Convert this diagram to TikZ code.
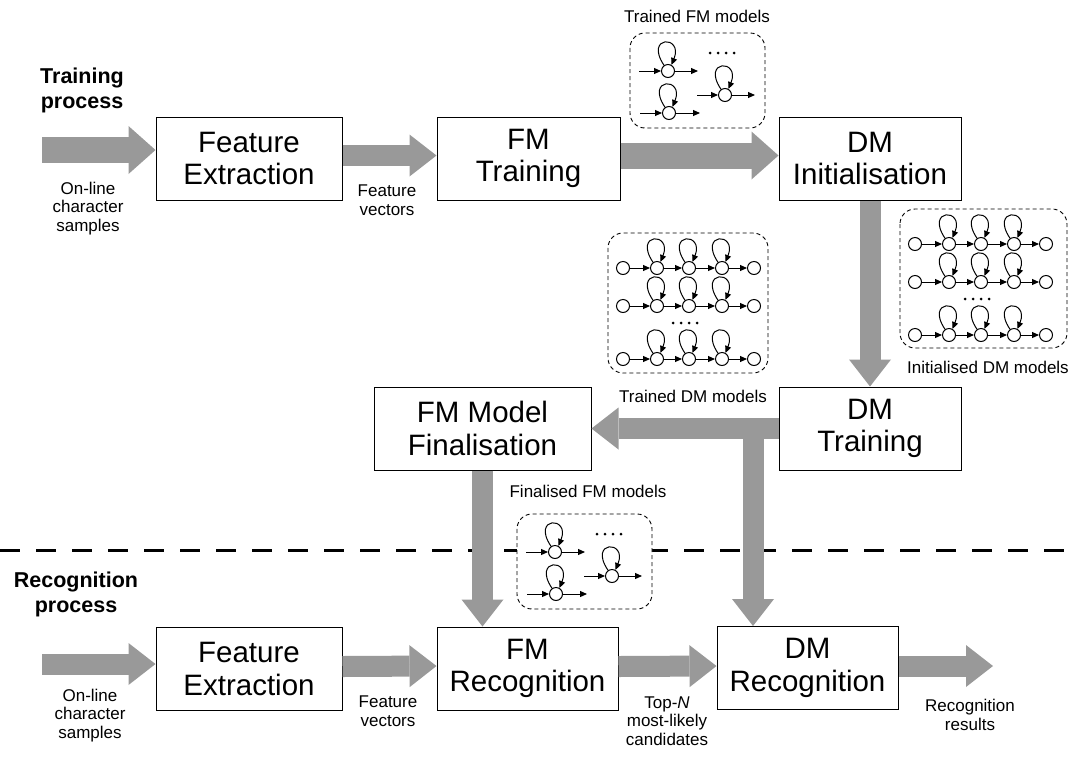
\documentclass[tikz,border=0pt]{standalone}
\usepackage{fontspec}
\setmainfont{Liberation Sans}
\usetikzlibrary{arrows.meta,calc}
\definecolor{arrowgray}{RGB}{153,153,153}
\tikzset{
 proc/.style={draw, line width=1pt, fill=white, inner sep=0pt, align=center,
   font=\fontsize{29.5}{32.5}\selectfont, minimum height=83pt},
 lbl/.style={align=center, font=\fontsize{17}{18.5}\selectfont, inner sep=0pt, anchor=base},
 ttl/.style={align=center, font=\fontsize{21.5}{25}\selectfont\bfseries, inner sep=0pt, anchor=base},
 bigarrow/.style={draw=arrowgray, line width=21pt, -{Triangle[length=27pt,width=42pt,line width=0pt]}},
 bigarrowthick/.style={draw=arrowgray, line width=26pt, -{Triangle[length=27pt,width=48pt,line width=0pt]}},
 modelbox/.style={draw, dash pattern=on 4pt off 3pt, rounded corners=15pt, fill=white, line width=0.9pt},
 st/.style={circle, draw, line width=1pt, inner sep=0pt, minimum size=13pt, fill=white},
 tr/.style={line width=1pt, -{Triangle[length=7pt,width=6pt]}},
 selfloop/.style={line width=1pt, -{Triangle[length=7pt,width=6pt]}},
}
\newcommand{\loopat}[1]{\draw[selfloop] (#1.125) .. controls +(-20,-30) and +(12,-30) .. (#1.60);}
\newcommand{\fmgroup}[3]{%
\begin{scope}[shift={(#2,#3)}]
\draw[modelbox] (0,0) rectangle (135,95);
\node[st] (#1s1) at (38,38) {};
\node[st] (#1s2) at (39,80) {};
\node[st] (#1s3) at (95,62) {};
\coordinate (#1i1) at (9,38); \coordinate (#1o1) at (68,38);
\coordinate (#1i2) at (10,80); \coordinate (#1o2) at (70,80);
\coordinate (#1i3) at (67,62); \coordinate (#1o3) at (125,62);
\foreach \k in {1,2,3}{
 \draw[tr] (#1i\k) -- (#1s\k);
 \draw[tr] (#1s\k) -- (#1o\k);
 \loopat{#1s\k}
}
\foreach \dx in {80,88,96,104} \fill (\dx,20) circle (1.5);
\end{scope}}
\newcommand{\dmgroup}[5]{%
\begin{scope}[shift={(#2,#3)}]
\draw[modelbox] (0,0) rectangle (#4,#5);
\foreach \r/\yy in {a/35,b/73,c/126}{
  \foreach \c/\xx in {1/15,2/49,3/81,4/114,5/146}{
    \node[st] (#1\r\c) at (\xx,\yy) {};
  }
  \draw[tr] (#1\r1) -- (#1\r2);
  \draw[tr] (#1\r2) -- (#1\r3);
  \draw[tr] (#1\r3) -- (#1\r4);
  \draw[tr] (#1\r4) -- (#1\r5);
  \foreach \c in {2,3,4}{
    \loopat{#1\r\c}
  }
}
\foreach \dx in {65,73,81,89} \fill (\dx,90) circle (1.5);
\end{scope}}
\begin{document}
\begin{tikzpicture}[x=1pt,y=-1pt]
\useasboundingbox (0,0) rectangle (1079,756);

% separator
\draw[line width=3pt, dash pattern=on 20pt off 16pt] (0,550) -- (1079,550);

% titles (anchor = baseline of last line)
\node[ttl] (ttrain) at (82,108) {Training\\process};
\node[ttl] (trec) at (76,612) {Recognition\\process};

% model groups
\fmgroup{tfm}{630}{33}
\fmgroup{ffm}{517}{514}
\dmgroup{tdm}{608}{233}{160}{140}
\dmgroup{idm}{900}{209}{167}{139}

% process boxes
\node[proc, minimum width=186pt] (fe1) at (249,158.5) {Feature\\Extraction};
\node[proc, minimum width=183pt] (fmt) at (528.5,158.5) {FM\\Training};
\node[proc, minimum width=182pt] (dmi) at (870,158.5) {DM\\Initialisation};
\node[proc, minimum width=182pt] (dmt) at (870,428.5) {DM\\Training};
\node[proc, minimum width=217pt] (fmf) at (482.5,428.5) {FM Model\\Finalisation};
\node[proc, minimum width=186pt] (fe2) at (249,669) {Feature\\Extraction};
\node[proc, minimum width=181pt] (fmr) at (527.5,668.5) {FM\\Recognition};
\node[proc, minimum width=181pt] (dmr) at (807.5,668) {DM\\Recognition};

% big arrows
\coordinate (in1) at (42,150);
\draw[bigarrowthick] (in1) -- (in1 -| fe1.west);
\draw[bigarrow] ([yshift=3pt]fe1.east) -- ([yshift=3pt]fmt.west);
\draw[bigarrowthick] ([yshift=3pt]fmt.east) -- ([yshift=3pt]dmi.west);
\draw[bigarrow] (dmi.south) -- (dmt.north);
\draw[bigarrow] (dmt.west) -- (fmf.east);
\coordinate (j) at (753,428.5);
\draw[bigarrow] (j) -- (j |- dmr.north);
\draw[bigarrow] (fmf.south) -- (fmf.south |- fmr.north);
\coordinate (in2) at (42,664);
\draw[bigarrow] (in2) -- (in2 -| fe2.west);
\draw[bigarrow] ([yshift=2.5pt]fe2.east) -- ([yshift=2.5pt]fmr.west);
\draw[bigarrow] ([yshift=2pt]fmr.east) -- ([yshift=2pt]dmr.west);
\coordinate (out) at (993,666);
\draw[bigarrow] ([yshift=2pt]dmr.east) -- (out);

% labels (anchor = baseline of last line)
\node[lbl] (l1) at (88,231) {On-line\\character\\samples};
\node[lbl] (l2) at (387,215) {Feature\\vectors};
\node[lbl] (l3) at (90,738) {On-line\\character\\samples};
\node[lbl] (l4) at (388,726) {Feature\\vectors};
\node[lbl] (l5) at (667,745) {Top-\textit{N}\\most-likely\\candidates};
\node[lbl] (l6) at (970,730) {Recognition\\results};
\node[lbl] (l7) at (697,22) {Trained FM models};
\node[lbl] (l8) at (693,402) {Trained DM models};
\node[lbl] (l9) at (588,497) {Finalised FM models};
\node[lbl] (l10) at (988,373) {Initialised DM models};
\end{tikzpicture}
\end{document}
